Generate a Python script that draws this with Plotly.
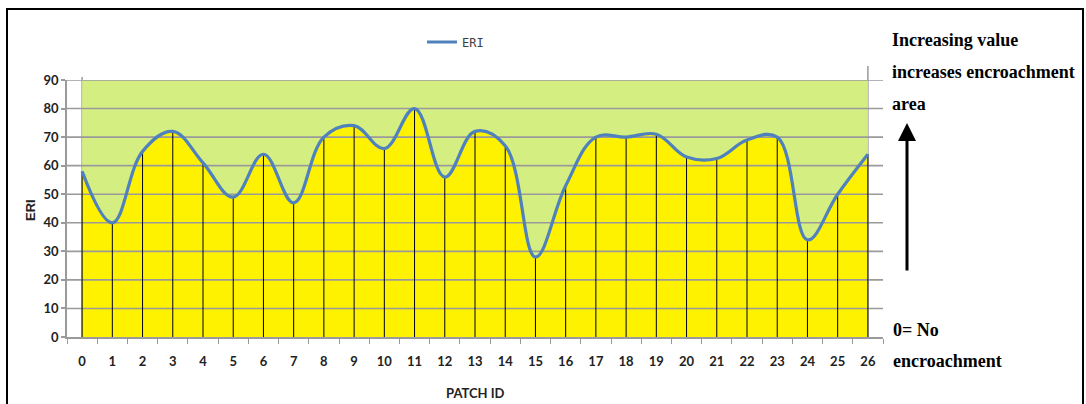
import plotly.graph_objects as go

# ---- data ----
patch_id = list(range(27))
eri = [58, 40, 65, 72, 61, 49, 64, 47, 70, 74, 66, 80, 56, 72, 67, 28, 53,
       70, 70, 71, 63, 62.5, 69, 70, 34, 50, 64]
y_ticks = [0, 10, 20, 30, 40, 50, 60, 70, 80, 90]
x_tick_labels = [str(p) for p in patch_id]

W, H = 1086, 404
L, R, T, B = 67, 203, 80, 67
PW, PH = W - L - R, H - T - B


def px(x):
    return (x - L) / PW


def py(y):
    return (H - B - y) / PH


xmin, xmax = patch_id[0] - 0.5, patch_id[-1] + 0.5
ymax = y_ticks[-1]

fig = go.Figure()

# yellow area under the curve
fig.add_trace(go.Scatter(
    x=patch_id, y=eri, mode="lines", line=dict(shape="spline", smoothing=1.1, width=0, color="#FFF200"),
    fill="tozeroy", fillcolor="#FFF200", showlegend=False, hoverinfo="skip"))

# horizontal gridlines (drawn over the fill)
gx, gy = [], []
for t in y_ticks[1:]:
    gx += [xmin, xmax, None]
    gy += [t, t, None]
fig.add_trace(go.Scatter(x=gx, y=gy, mode="lines", line=dict(color="#9A9A9A", width=1.6),
                         showlegend=False, hoverinfo="skip"))

# drop lines
dx, dy = [], []
for p, v in zip(patch_id, eri):
    dx += [p, p, None]
    dy += [0, v, None]
fig.add_trace(go.Scatter(x=dx, y=dy, mode="lines", line=dict(color="black", width=1),
                         showlegend=False, hoverinfo="skip"))

# ERI line
fig.add_trace(go.Scatter(
    x=patch_id, y=eri, mode="lines", name="ERI",
    line=dict(shape="spline", smoothing=1.1, width=3.2, color="#4F81BD")))

shapes = [
    # green region
    dict(type="rect", xref="x", yref="y", x0=patch_id[0], x1=patch_id[-1], y0=0, y1=ymax,
         fillcolor="#D4EE82", line=dict(width=0), layer="below"),
    dict(type="line", xref="x", yref="paper", x0=patch_id[0], x1=patch_id[0], y0=0, y1=py(77),
         line=dict(color="#9A9A9A", width=1.5), layer="below"),
    dict(type="line", xref="x", yref="paper", x0=patch_id[-1], x1=patch_id[-1], y0=0, y1=py(66),
         line=dict(color="#9A9A9A", width=1.5), layer="below"),
    # outer frame
    dict(type="rect", xref="paper", yref="paper", x0=px(7), x1=px(1083), y0=py(415), y1=py(9),
         line=dict(color="black", width=2), fillcolor="rgba(0,0,0,0)", layer="above"),
]

serif = dict(family="Liberation Serif", size=18, color="black", weight="bold")
annotations = [
    dict(text="Increasing value", x=px(890), y=py(40), xref="paper", yref="paper",
         xanchor="left", yanchor="middle", showarrow=False, font=serif),
    dict(text="increases encroachment", x=px(890), y=py(72), xref="paper", yref="paper",
         xanchor="left", yanchor="middle", showarrow=False, font=serif),
    dict(text="area", x=px(890), y=py(104), xref="paper", yref="paper",
         xanchor="left", yanchor="middle", showarrow=False, font=serif),
    dict(text="0= No", x=px(891), y=py(330), xref="paper", yref="paper",
         xanchor="left", yanchor="middle", showarrow=False, font=serif),
    dict(text="encroachment", x=px(891), y=py(361), xref="paper", yref="paper",
         xanchor="left", yanchor="middle", showarrow=False, font=serif),
    # arrow
    dict(text="", x=px(907), y=py(123), xref="paper", yref="paper", showarrow=True,
         ax=0, ay=149, axref="pixel", ayref="pixel", arrowhead=2, arrowsize=1.2, arrowwidth=3,
         arrowcolor="black"),
    # axis titles
    dict(text="ERI", x=px(30), y=py(210), xref="paper", yref="paper", textangle=-90,
         xanchor="center", yanchor="middle",
         showarrow=False, font=dict(family="Liberation Sans", size=13, color="#222", weight="bold")),
    dict(text="PATCH ID", x=px(475), y=py(393), xref="paper", yref="paper",
         xanchor="center", yanchor="middle",
         showarrow=False, font=dict(family="Lato", size=13, color="#222", weight="bold")),
]

tickfont = dict(family="Lato", size=13, color="#222", weight="bold")

fig.update_layout(
    width=W, height=H,
    margin=dict(l=L, r=R, t=T, b=B, pad=0),
    paper_bgcolor="white", plot_bgcolor="white",
    shapes=shapes, annotations=annotations,
    legend=dict(orientation="h", x=px(422), y=py(42), xanchor="left", yanchor="middle",
                bgcolor="rgba(0,0,0,0)", itemwidth=30,
                font=dict(family="DejaVu Sans Mono", size=12, color="#404040")),
    xaxis=dict(range=[xmin, xmax], tickmode="array", tickvals=patch_id, ticktext=x_tick_labels,
               ticks="", showgrid=False, zeroline=False, showline=True, linecolor="#9A9A9A",
               linewidth=1.6, tickfont=tickfont, ticklabelstandoff=12,
               minor=dict(tick0=xmin, dtick=1, ticks="outside", ticklen=5, tickcolor="#9A9A9A",
                          tickwidth=1.2, showgrid=False)),
    yaxis=dict(range=[0, ymax], tickmode="array", tickvals=y_ticks, showgrid=False,
               zeroline=False, showline=True, linecolor="#9A9A9A", linewidth=1.6,
               ticks="outside", ticklen=4, tickcolor="#9A9A9A", tickwidth=1.6, tickfont=tickfont),
)

fig.write_html("out.html", config={"displayModeBar": False},
               post_script="document.body.style.margin='0';")
